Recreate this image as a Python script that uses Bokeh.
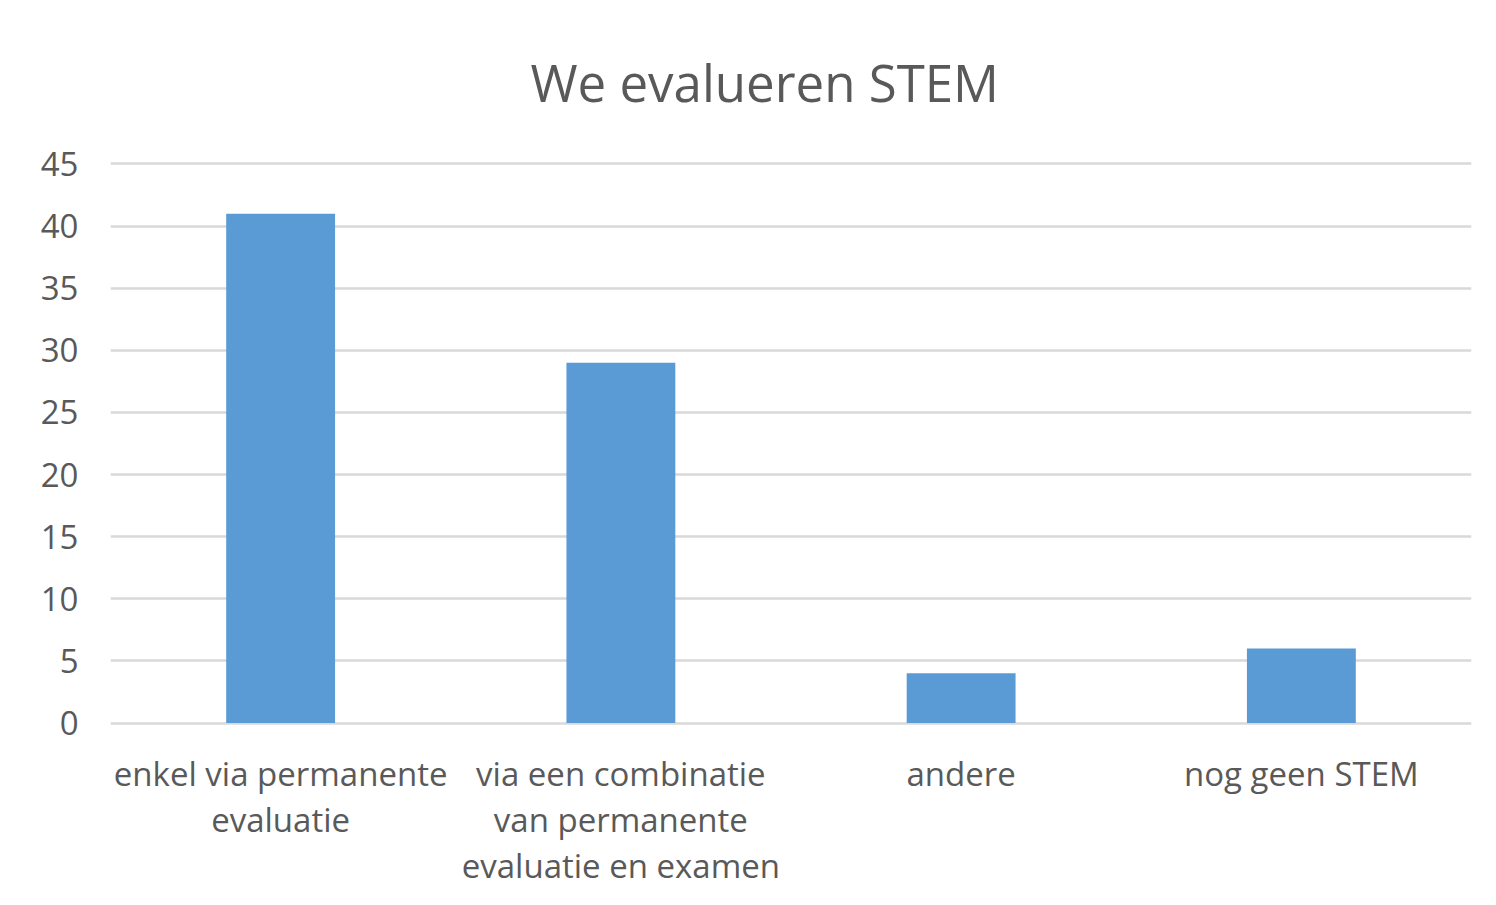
from bokeh.plotting import figure
from bokeh.models import Title, Range1d, FixedTicker
from bokeh.embed import file_html
from bokeh.resources import INLINE

categories = ["enkel via permanente\nevaluatie",
              "via een combinatie\nvan permanente\nevaluatie en examen",
              "andere",
              "nog geen STEM"]
values = [41, 29, 4, 6]
y_ticks = [0, 5, 10, 15, 20, 25, 30, 35, 40, 45]

FONT = "Open Sans"
TXT = "#595959"

p = figure(x_range=categories, y_range=Range1d(-0.2, 45.2),
           frame_width=1361, frame_height=564,
           output_backend="svg", toolbar_location=None,
           min_border_left=110, min_border_right=16, min_border_top=160, min_border_bottom=170)

p.vbar(x=categories, top=values, width=0.32, color="#5b9bd5", line_color=None)

p.add_layout(Title(text="We evalueren STEM", text_font=FONT, text_font_size="51px",
                   text_font_style="normal", text_color=TXT, align="left", offset=420,
                   standoff=89), "above")

p.outline_line_color = None
p.background_fill_color = "white"
p.border_fill_color = "white"

p.xgrid.grid_line_color = None
p.ygrid.grid_line_color = "#d9d9d9"
p.ygrid.grid_line_width = 2.5

p.yaxis.ticker = FixedTicker(ticks=y_ticks)
p.yaxis.axis_line_color = None
p.yaxis.major_tick_line_color = None
p.yaxis.minor_tick_line_color = None
p.yaxis.major_label_text_font = FONT
p.yaxis.major_label_text_font_size = "33px"
p.yaxis.major_label_text_color = TXT
p.yaxis.major_label_standoff = 26

p.xaxis.axis_line_color = None
p.xaxis.major_tick_line_color = None
p.xaxis.major_label_text_font = FONT
p.xaxis.major_label_text_font_size = "33px"
p.xaxis.major_label_text_color = TXT
p.xaxis.major_label_standoff = 19
p.xaxis.major_label_text_line_height = 1.03

open("out.html", "w").write(file_html(p, INLINE))
